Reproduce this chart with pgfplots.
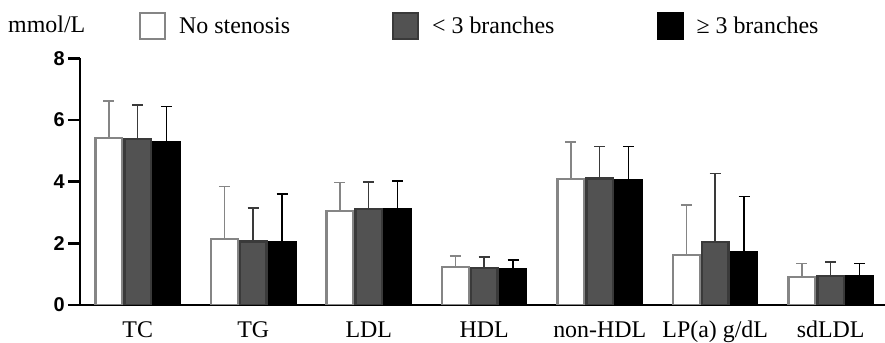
\documentclass[border=0pt]{standalone}
\usepackage{pgfplots}
\usepackage{pgfplotstable}
\pgfplotsset{compat=1.18}
\usepackage{fontspec}
\setmainfont{Liberation Serif}
\newfontfamily\ticksans{Liberation Sans}
\definecolor{edgegray}{HTML}{858585}
\definecolor{midgray}{HTML}{525252}
\definecolor{darkedge}{HTML}{3A3A3A}

\pgfplotstableread{
x m e
0 5.41 1.21
1 2.13 1.71
2 3.05 0.92
3 1.24 0.35
4 4.08 1.20
5 1.62 1.63
6 0.92 0.43
}\nostenosis
\pgfplotstableread{
x m e
0 5.39 1.09
1 2.06 1.08
2 3.11 0.88
3 1.21 0.34
4 4.10 1.04
5 2.03 2.24
6 0.95 0.44
}\lessthree
\pgfplotstableread{
x m e
0 5.29 1.15
1 2.03 1.57
2 3.12 0.90
3 1.18 0.28
4 4.06 1.08
5 1.71 1.81
6 0.95 0.40
}\morethree

\begin{document}
\begin{tikzpicture}
\begin{axis}[
  name=ax,
  scale only axis,
  width=805bp, height=246.7bp,
  xmin=-0.5, xmax=6.47, ymin=0, ymax=8,
  axis x line*=bottom, axis y line*=left,
  axis line style={-, line width=2.5bp, black},
  ytick={0,2,4,6,8},
  xtick={0,...,6},
  xticklabels={TC,TG,LDL,HDL,non-HDL,LP(a) g/dL,sdLDL},
  tick align=outside,
  major tick length=12bp,
  ytick style={line width=2.5bp, black},
  xtick style={draw=none},
  /pgf/number format/assume math mode=true,
  yticklabel style={font=\ticksans\bfseries\fontsize{20}{20}\selectfont, inner sep=3bp},
  xticklabel style={font=\fontsize{24}{24}\selectfont, inner sep=0pt, text height=17bp, text depth=5bp, yshift=-3bp},
  legend columns=3,
  legend image code/.code={\draw[#1, line width=2bp] (0bp,-13bp) rectangle (25bp,13bp);},
  legend style={at={(0.0733,1.13)}, anchor=west, draw=none, fill=none, inner sep=0pt,
    font=\fontsize{24}{24}\selectfont, nodes={inner sep=0pt},
    /tikz/every odd column/.append style={column sep=13bp},
    /tikz/every even column/.append style={column sep=102bp}},
]
\addplot[ybar, bar width=0.23, bar shift=0, fill=white, draw=edgegray, line width=2.2bp,
  error bars/y dir=plus, error bars/y explicit,
  error bars/error bar style={line width=1.5bp, edgegray},
  error bars/error mark options={rotate=90, mark size=5.5bp, line width=1.5bp, edgegray}]
  table[x expr=\thisrow{x}-0.25, y=m, y error=e] {\nostenosis};
\addlegendentry{No stenosis}
\addplot[ybar, bar width=0.23, bar shift=0, fill=midgray, draw=darkedge, line width=2.2bp,
  error bars/y dir=plus, error bars/y explicit,
  error bars/error bar style={line width=1.5bp, darkedge},
  error bars/error mark options={rotate=90, mark size=5.5bp, line width=1.5bp, darkedge}]
  table[x=x, y=m, y error=e] {\lessthree};
\addlegendentry{< 3 branches}
\addplot[ybar, bar width=0.23, bar shift=0, fill=black, draw=black, line width=2.2bp,
  error bars/y dir=plus, error bars/y explicit,
  error bars/error bar style={line width=1.5bp, black},
  error bars/error mark options={rotate=90, mark size=5.5bp, line width=1.5bp, black}]
  table[x expr=\thisrow{x}+0.25, y=m, y error=e] {\morethree};
\addlegendentry{≥ 3 branches}
\end{axis}
\node[anchor=base west, inner sep=0pt, font=\fontsize{24}{24}\selectfont] at ([shift={(-72bp,272bp)}]ax.south west) {mmol/L};
\pgfresetboundingbox
\path[use as bounding box] ([shift={(-80bp,-38bp)}]ax.south west) rectangle ([shift={(0bp,58.3bp)}]ax.north east);
\end{tikzpicture}
\end{document}
